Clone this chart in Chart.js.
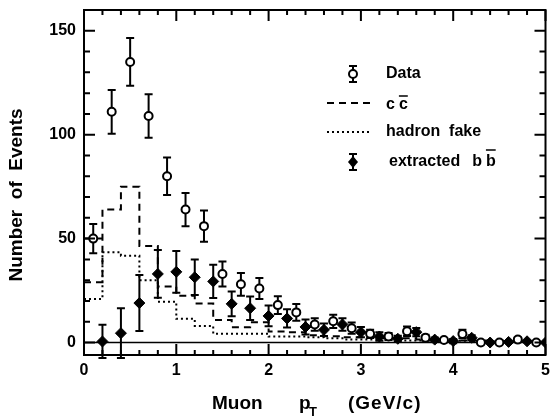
<!DOCTYPE html>
<html lang="en">
<head>
<meta charset="UTF-8">
<title>Muon pT</title>
<script src="https://cdn.jsdelivr.net/npm/chart.js@4.4.0/dist/chart.umd.min.js"></script>
<style>
  html, body { margin: 0; padding: 0; background: #fff; }
  #wrap { width: 552px; height: 418px; }
</style>
</head>
<body>
<div id="wrap"><canvas id="chart"></canvas></div>
<script>
// measured data points (open circles) with stat. errors
const dataX   = [0.1, 0.3, 0.5, 0.7, 0.9, 1.1, 1.3, 1.5, 1.7, 1.9, 2.1, 2.3, 2.5, 2.7, 2.9, 3.1, 3.3, 3.5, 3.7, 3.9, 4.1, 4.3, 4.5, 4.7, 4.9];
const dataY   = [50, 111, 135, 109, 80, 64, 56, 33, 28, 26, 18, 14.5, 8.7, 10.2, 6.9, 4.2, 2.9, 5.4, 2.3, 1.2, 4.1, 0, 0, 1.4, 0];
const dataErr = [7, 10.5, 11.5, 10.5, 9, 8, 7.5, 6, 5.5, 5, 4.3, 4, 3, 3.2, 2.7, 2, 1.7, 2.3, 1.5, 1, 2, 0, 0, 1, 0];
const dataXErr = [0.1, 0, 0, 0, 0, 0, 0, 0, 0, 0, 0, 0, 0, 0, 0, 0, 0, 0, 0, 0, 0, 0, 0, 0, 0];

// extracted b-bbar (filled diamonds)
const bbX   = [0.2, 0.4, 0.6, 0.8, 1.0, 1.2, 1.4, 1.6, 1.8, 2.0, 2.2, 2.4, 2.6, 2.8, 3.0, 3.2, 3.4, 3.6, 3.8, 4.0, 4.2, 4.4, 4.6, 4.8, 5.0];
const bbY   = [0.5, 4.5, 19, 33, 34, 31.4, 29.4, 18.6, 16.5, 12.8, 11.6, 7.5, 6.1, 8.7, 5, 2.9, 1.8, 5, 1.4, 0.7, 2.3, 0, 0.3, 0.6, 0];
const bbErr = [8, 12, 13.5, 11.5, 10, 8.5, 8, 6, 5.6, 5, 4.4, 3.6, 3, 3, 2.5, 2, 1.5, 2, 1, 1, 1.2, 0, 0, 0, 0];

// histograms: bin edges and contents
const binEdges = [0, 0.2, 0.4, 0.6, 0.8, 1.0, 1.2, 1.4, 1.6, 1.8, 2.0, 2.2, 2.4, 2.6, 2.8, 3.0, 3.2, 3.4, 3.6, 3.8, 4.0, 4.2, 4.4, 4.6, 4.8, 5.0];
const ccbar  = [29, 64, 75, 46.5, 27, 22.5, 18.8, 10.8, 7.4, 9.8, 5.3, 5, 3.5, 3, 2.5, 2.5, 2, 2, 1.5, 1.5, 1, 1, 1, 0.5, 0.5];
const hadron = [21, 43.4, 41.8, 30, 19.6, 11.4, 8, 4.2, 4.2, 4.2, 2.9, 2.9, 2.5, 2, 1.5, 1.5, 1.2, 1, 1, 0.8, 0.8, 0.5, 0.5, 0.5, 0.5];

const xTicks = [0, 1, 2, 3, 4, 5];
const yTicks = [0, 50, 100, 150];

const FONT = '"Liberation Sans", Arial, sans-serif';

function histPoints(vals) {
  const pts = vals.map((v, i) => ({ x: binEdges[i], y: v }));
  pts.push({ x: binEdges[binEdges.length - 1], y: vals[vals.length - 1] });
  return pts;
}

// error bars, drawn below the markers
const errorBars = {
  id: 'errorBars',
  beforeDatasetsDraw(chart) {
    const { ctx, scales: { x, y } } = chart;
    ctx.save();
    ctx.strokeStyle = '#000';
    ctx.lineWidth = 2;
    const draw = (xs, ys, es, cap, xe) => {
      xs.forEach((xv, i) => {
        if (!es[i] && !(xe && xe[i])) return;
        const px = x.getPixelForValue(xv);
        const top = y.getPixelForValue(ys[i] + es[i]);
        const bot = y.getPixelForValue(ys[i] - es[i]);
        ctx.beginPath();
        ctx.moveTo(px, top); ctx.lineTo(px, bot);
        ctx.moveTo(px - cap, top); ctx.lineTo(px + cap, top);
        ctx.moveTo(px - cap, bot); ctx.lineTo(px + cap, bot);
        if (xe && xe[i]) {
          const py = y.getPixelForValue(ys[i]);
          ctx.moveTo(x.getPixelForValue(xv - xe[i]), py);
          ctx.lineTo(x.getPixelForValue(xv + xe[i]), py);
        }
        ctx.stroke();
      });
    };
    draw(dataX, dataY, dataErr, 4, dataXErr);
    draw(bbX, bbY, bbErr, 4);
    ctx.restore();
  }
};

// zero line, frame with inward ticks, legend and axis titles
const decor = {
  id: 'decor',
  beforeDatasetsDraw(chart) {
    const { ctx, chartArea: a, scales: { y } } = chart;
    ctx.save();
    ctx.strokeStyle = '#000';
    ctx.lineWidth = 1.5;
    const y0 = y.getPixelForValue(0);
    ctx.beginPath(); ctx.moveTo(a.left, y0); ctx.lineTo(a.right, y0); ctx.stroke();
    ctx.restore();
  },
  afterDraw(chart) {
    const { ctx, chartArea: a, scales: { x, y } } = chart;
    ctx.save();
    ctx.strokeStyle = '#000';
    ctx.fillStyle = '#000';
    ctx.lineWidth = 2;
    ctx.strokeRect(a.left, a.top, a.right - a.left, a.bottom - a.top);

    ctx.beginPath();
    for (let k = 0; k <= 25; k++) {
      const v = k * 0.2;
      const px = x.getPixelForValue(v);
      const len = (k % 5 === 0) ? 11 : 5;
      ctx.moveTo(px, a.bottom); ctx.lineTo(px, a.bottom - len);
      ctx.moveTo(px, a.top); ctx.lineTo(px, a.top + len);
    }
    for (let v = 0; v <= 160; v += 10) {
      const py = y.getPixelForValue(v);
      const len = (v % 50 === 0) ? 11 : 6;
      ctx.moveTo(a.left, py); ctx.lineTo(a.left + len, py);
      ctx.moveTo(a.right, py); ctx.lineTo(a.right - len, py);
    }
    ctx.stroke();

    // legend
    ctx.font = 'bold 16px ' + FONT;
    ctx.textBaseline = 'middle';
    ctx.textAlign = 'left';
    const sx = 353, tx = 386;
    // Data
    ctx.beginPath();
    ctx.moveTo(sx, 66); ctx.lineTo(sx, 82);
    ctx.moveTo(sx - 4, 66); ctx.lineTo(sx + 4, 66);
    ctx.moveTo(sx - 4, 82); ctx.lineTo(sx + 4, 82);
    ctx.stroke();
    ctx.beginPath(); ctx.arc(sx, 74, 4, 0, Math.PI * 2);
    ctx.fillStyle = '#fff'; ctx.fill(); ctx.stroke();
    ctx.fillStyle = '#000';
    ctx.fillText('Data', tx, 74);
    // c cbar
    ctx.setLineDash([7, 5]);
    ctx.beginPath(); ctx.moveTo(327, 103); ctx.lineTo(372, 103); ctx.stroke();
    ctx.setLineDash([2, 3]);
    ctx.beginPath(); ctx.moveTo(327, 132); ctx.lineTo(371, 132); ctx.stroke();
    ctx.setLineDash([]);
    ctx.fillText('c', tx, 105);
    const cw = ctx.measureText('c').width;
    const c2 = tx + cw + 4;
    ctx.fillText('c', c2, 105);
    ctx.lineWidth = 1.5;
    ctx.beginPath(); ctx.moveTo(c2, 96); ctx.lineTo(c2 + cw, 96); ctx.stroke();
    ctx.fillText('hadron  fake', tx, 132);
    // extracted b bbar
    ctx.lineWidth = 2;
    ctx.beginPath();
    ctx.moveTo(sx, 154); ctx.lineTo(sx, 170);
    ctx.moveTo(sx - 4, 154); ctx.lineTo(sx + 4, 154);
    ctx.moveTo(sx - 4, 170); ctx.lineTo(sx + 4, 170);
    ctx.stroke();
    ctx.beginPath();
    ctx.moveTo(sx, 156); ctx.lineTo(sx + 5, 162); ctx.lineTo(sx, 168); ctx.lineTo(sx - 5, 162);
    ctx.closePath(); ctx.fill();
    const ex = 389;
    ctx.fillText('extracted', ex, 162);
    const bx = ex + ctx.measureText('extracted').width + 12;
    ctx.fillText('b', bx, 162);
    const bw = ctx.measureText('b').width;
    const b2 = bx + bw + 4;
    ctx.fillText('b', b2, 162);
    ctx.lineWidth = 1.5;
    ctx.beginPath(); ctx.moveTo(b2, 150); ctx.lineTo(b2 + bw, 150); ctx.stroke();

    // axis titles
    ctx.font = 'bold 19px ' + FONT;
    ctx.textBaseline = 'alphabetic';
    ctx.fillText('Muon', 212, 409);
    ctx.fillText('p', 299, 409);
    ctx.font = 'bold 13px ' + FONT;
    ctx.fillText('T', 309, 416);
    ctx.font = 'bold 19px ' + FONT;
    ctx.letterSpacing = '1px';
    ctx.fillText('(GeV/c)', 348, 409);
    ctx.letterSpacing = '0px';

    ctx.translate(17, 195);
    ctx.rotate(-Math.PI / 2);
    ctx.textAlign = 'center';
    ctx.textBaseline = 'middle';
    ctx.fillText('Number  of  Events', 0, 0);
    ctx.restore();
  }
};

new Chart(document.getElementById('chart'), {
  type: 'scatter',
  data: {
    datasets: [
      {
        label: 'Data',
        data: dataX.map((v, i) => ({ x: v, y: dataY[i] })),
        pointStyle: 'circle',
        pointRadius: 4,
        pointBackgroundColor: '#fff',
        pointBorderColor: '#000',
        pointBorderWidth: 2
      },
      {
        label: 'extracted b bbar',
        data: bbX.map((v, i) => ({ x: v, y: bbY[i] })),
        pointStyle: 'rectRot',
        pointRadius: 5.5,
        pointBackgroundColor: '#000',
        pointBorderColor: '#000',
        pointBorderWidth: 1
      },
      {
        label: 'c cbar',
        type: 'line',
        data: histPoints(ccbar),
        stepped: 'before',
        borderColor: '#000',
        borderWidth: 2,
        borderDash: [7, 5],
        pointRadius: 0,
        fill: false
      },
      {
        label: 'hadron fake',
        type: 'line',
        data: histPoints(hadron),
        stepped: 'before',
        borderColor: '#000',
        borderWidth: 2,
        borderDash: [2, 3],
        pointRadius: 0,
        fill: false
      }
    ]
  },
  options: {
    responsive: true,
    maintainAspectRatio: false,
    animation: false,
    layout: { padding: { top: 10, right: 3, left: 0, bottom: 0 } },
    plugins: { legend: { display: false }, tooltip: { enabled: false } },
    scales: {
      x: {
        type: 'linear', min: 0, max: 5,
        afterBuildTicks: s => { s.ticks = xTicks.map(v => ({ value: v })); },
        afterFit: s => { s.height = 63; s.paddingLeft = 0; s.paddingRight = 0; },
        grid: { display: false, drawTicks: false },
        border: { display: false },
        ticks: { color: '#000', padding: 6, font: { family: FONT, size: 16, weight: 'bold' } }
      },
      y: {
        type: 'linear', min: -6, max: 160,
        afterBuildTicks: s => { s.ticks = yTicks.map(v => ({ value: v })); },
        afterFit: s => { s.width = 84; s.paddingTop = 0; s.paddingBottom = 0; },
        grid: { display: false, drawTicks: false },
        border: { display: false },
        ticks: { color: '#000', padding: 8, font: { family: FONT, size: 16, weight: 'bold' } }
      }
    }
  },
  plugins: [errorBars, decor]
});
</script>
</body>
</html>
